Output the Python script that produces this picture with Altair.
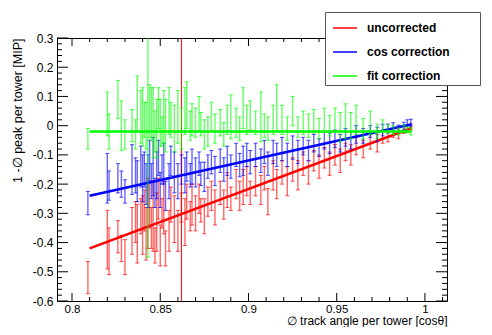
import altair as alt
import pandas as pd

# ---------------- data ----------------
tower_cos = [0.809, 0.820, 0.821, 0.826, 0.828, 0.830, 0.834, 0.836, 0.837, 0.839,
             0.840, 0.841, 0.842, 0.843, 0.844, 0.845, 0.846, 0.847, 0.848, 0.849,
             0.850, 0.851, 0.852, 0.853, 0.855, 0.856, 0.858,
             0.860, 0.862, 0.864, 0.865, 0.867, 0.868, 0.870, 0.872, 0.873, 0.875,
             0.877, 0.879, 0.881, 0.884, 0.886, 0.888, 0.890, 0.893, 0.895, 0.897,
             0.899, 0.901, 0.904, 0.907, 0.909, 0.911, 0.914, 0.916, 0.919, 0.922,
             0.925, 0.928, 0.931, 0.934, 0.937, 0.940, 0.943, 0.946, 0.949, 0.952,
             0.955, 0.958, 0.961, 0.965, 0.969, 0.973, 0.976, 0.979, 0.982, 0.985,
             0.988, 0.990, 0.992]

uncorrected = [-0.52, -0.39, -0.43, -0.38, -0.42, -0.45, -0.36, -0.33, -0.37, -0.31,
               -0.34, -0.29, -0.37, -0.30, -0.27, -0.35, -0.31, -0.41, -0.33, -0.25,
               -0.41, -0.30, -0.28, -0.42, -0.36, -0.27, -0.32,
               -0.36, -0.28, -0.33, -0.26, -0.31, -0.27, -0.30, -0.25, -0.29, -0.31,
               -0.26, -0.24, -0.28, -0.23, -0.27, -0.22, -0.25, -0.20, -0.24, -0.21,
               -0.19, -0.23, -0.19, -0.22, -0.18, -0.26, -0.17, -0.20, -0.16, -0.19,
               -0.15, -0.17, -0.13, -0.16, -0.12, -0.14, -0.11, -0.13, -0.10, -0.12,
               -0.09, -0.10, -0.07, -0.08, -0.055, -0.06, -0.04, -0.035, -0.025, -0.03,
               -0.015, -0.01, -0.005]
uncorrected_err = [0.055, 0.100, 0.080, 0.055, 0.045, 0.060, 0.080, 0.070, 0.100, 0.060,
                   0.100, 0.070, 0.090, 0.120, 0.080, 0.070, 0.120, 0.060, 0.100, 0.070,
                   0.070, 0.050, 0.090, 0.060, 0.070, 0.060, 0.080,
                   0.070, 0.050, 0.080, 0.060, 0.050, 0.070, 0.060, 0.050, 0.040, 0.060,
                   0.050, 0.050, 0.060, 0.040, 0.050, 0.060, 0.040, 0.050, 0.050, 0.060,
                   0.050, 0.040, 0.050, 0.050, 0.040, 0.045, 0.050, 0.050, 0.040, 0.050,
                   0.040, 0.050, 0.040, 0.040, 0.035, 0.040, 0.035, 0.040, 0.035, 0.040,
                   0.030, 0.035, 0.030, 0.030, 0.025, 0.030, 0.020, 0.020, 0.015, 0.015,
                   0.012, 0.012, 0.010]

cos_correction = [-0.265, -0.180, -0.205, -0.180, -0.200, -0.225, -0.150, -0.170, -0.190, -0.140,
                  -0.180, -0.150, -0.200, -0.190, -0.120, -0.190, -0.140, -0.230, -0.170, -0.110,
                  -0.220, -0.150, -0.130, -0.240, -0.190, -0.120, -0.160,
                  -0.190, -0.150, -0.170, -0.140, -0.170, -0.140, -0.160, -0.130, -0.165, -0.175,
                  -0.140, -0.125, -0.155, -0.120, -0.150, -0.120, -0.140, -0.100, -0.135, -0.120,
                  -0.100, -0.125, -0.100, -0.120, -0.090, -0.130, -0.090, -0.100, -0.080, -0.100,
                  -0.075, -0.090, -0.070, -0.085, -0.060, -0.075, -0.050, -0.060, -0.045, -0.060,
                  -0.040, -0.050, -0.030, -0.035, -0.020, -0.030, -0.015, -0.010, -0.005, -0.010,
                  0.000, 0.010, 0.010]
cos_correction_err = [0.040, 0.085, 0.050, 0.050, 0.045, 0.040, 0.085, 0.060, 0.070, 0.070,
                      0.080, 0.060, 0.070, 0.090, 0.070, 0.060, 0.100, 0.050, 0.080, 0.060,
                      0.060, 0.050, 0.070, 0.050, 0.060, 0.050, 0.070,
                      0.060, 0.050, 0.060, 0.050, 0.040, 0.060, 0.050, 0.040, 0.040, 0.050,
                      0.040, 0.040, 0.050, 0.040, 0.040, 0.050, 0.040, 0.040, 0.040, 0.050,
                      0.040, 0.040, 0.040, 0.040, 0.040, 0.040, 0.040, 0.040, 0.040, 0.040,
                      0.040, 0.040, 0.030, 0.035, 0.030, 0.030, 0.030, 0.035, 0.030, 0.030,
                      0.030, 0.030, 0.030, 0.025, 0.020, 0.025, 0.020, 0.015, 0.015, 0.012,
                      0.012, 0.010, 0.012]

fit_correction = [-0.045, 0.040, -0.020, 0.090, 0.000, -0.030, 0.000, -0.030, 0.075, 0.030,
                  0.030, 0.020, 0.000, -0.050, 0.050, 0.040, 0.010, -0.020, -0.010, 0.060,
                  0.010, -0.020, 0.030, 0.000, 0.050, 0.020, -0.010,
                  0.030, -0.010, 0.050, 0.070, 0.000, 0.020, 0.010, 0.040, 0.005, -0.030,
                  -0.020, 0.030, -0.010, 0.010, -0.030, 0.020, 0.030, 0.010, -0.010, 0.060,
                  0.020, 0.035, 0.010, 0.030, 0.000, -0.010, 0.020, 0.060, 0.020, -0.010,
                  0.050, -0.005, 0.010, 0.000, 0.015, -0.010, 0.020, 0.000, 0.020, -0.005,
                  0.015, 0.000, 0.020, -0.010, 0.010, -0.020, 0.000, -0.010, -0.015, -0.020,
                  -0.010, -0.015, -0.020]
fit_correction_err = [0.035, 0.075, 0.060, 0.065, 0.085, 0.050, 0.055, 0.050, 0.095, 0.090,
                      0.100, 0.060, 0.080, 0.400, 0.090, 0.090, 0.120, 0.070, 0.100, 0.070,
                      0.080, 0.050, 0.090, 0.090, 0.080, 0.060, 0.080,
                      0.090, 0.070, 0.080, 0.080, 0.050, 0.055, 0.050, 0.060, 0.040, 0.050,
                      0.050, 0.050, 0.050, 0.045, 0.040, 0.050, 0.075, 0.050, 0.040, 0.070,
                      0.050, 0.050, 0.040, 0.085, 0.040, 0.040, 0.050, 0.080, 0.050, 0.040,
                      0.050, 0.035, 0.040, 0.040, 0.040, 0.035, 0.040, 0.035, 0.040, 0.050,
                      0.060, 0.045, 0.050, 0.035, 0.040, 0.025, 0.020, 0.015, 0.015, 0.012,
                      0.012, 0.010, 0.012]

# straight-line fits (end points)
fit_x = [0.810, 0.9925]
uncorrected_fit = [-0.420, -0.008]
cos_correction_fit = [-0.240, 0.005]
fit_correction_fit = [-0.020, -0.020]

cut_position = [0.862]

series_names = ["uncorrected", "cos correction", "fit correction"]
series_colors = ["#ff0000", "#0000ff", "#00ff00"]

# axis ticks
x_major = [0.8, 0.85, 0.9, 0.95, 1.0]
x_minor = [0.81, 0.82, 0.83, 0.84, 0.86, 0.87, 0.88, 0.89, 0.91, 0.92, 0.93, 0.94,
           0.96, 0.97, 0.98, 0.99, 1.01]
y_major = [-0.6, -0.5, -0.4, -0.3, -0.2, -0.1, 0.0, 0.1, 0.2, 0.3]
y_minor = [-0.58, -0.56, -0.54, -0.52, -0.48, -0.46, -0.44, -0.42, -0.38, -0.36, -0.34,
           -0.32, -0.28, -0.26, -0.24, -0.22, -0.18, -0.16, -0.14, -0.12, -0.08, -0.06,
           -0.04, -0.02, 0.02, 0.04, 0.06, 0.08, 0.12, 0.14, 0.16, 0.18, 0.22, 0.24,
           0.26, 0.28]

# ---------------- chart ----------------
W, H = 390, 263
FONT = "Liberation Sans"

XS = alt.Scale(domain=[0.7915, 1.0125], nice=False, zero=False)
YS = alt.Scale(domain=[-0.6, 0.3], nice=False, zero=False)
XAX = alt.Axis(values=x_major, labelExpr="format(datum.value, '~g')",
               title="\u2205 track angle per tower [cos\u03b8]",
               titleAnchor="end", titleBaseline="middle", titleY=19,
               titleFontWeight="normal", titleFontSize=12, titleFont=FONT,
               labelFont=FONT, labelFontSize=11.5, labelPadding=2,
               ticks=False, domain=False, grid=False, labelColor="black", titleColor="black")
YAX = alt.Axis(values=y_major,
               labelExpr="replace(format(datum.value, '~g'), '\u2212', '-')",
               title="1 -\u2205 peak per tower [MIP]",
               titleAnchor="end", titleBaseline="middle", titleX=-40,
               titleFontWeight="normal", titleFontSize=12.5, titleFont=FONT,
               labelFont=FONT, labelFontSize=12, labelPadding=4,
               ticks=False, domain=False, grid=False, labelColor="black", titleColor="black")


def X(f):
    return alt.X(f"{f}:Q", scale=XS, axis=XAX)


def Y(f):
    return alt.Y(f"{f}:Q", scale=YS, axis=YAX)


values = [uncorrected, cos_correction, fit_correction]
errors = [uncorrected_err, cos_correction_err, fit_correction_err]
fits = [uncorrected_fit, cos_correction_fit, fit_correction_fit]

LEGEND = alt.Legend(
    title=None, orient="none", legendX=268, legendY=-26,
    symbolType="stroke", symbolSize=576, symbolStrokeWidth=1.5, symbolOffset=4,
    labelFont=FONT, labelFontSize=12, labelFontWeight="bold",
    labelColor="black", labelOffset=9, padding=3, rowPadding=5,
    labelExpr="datum.label + '\u2800\u2800\u2800'",
    strokeColor="#555555", fillColor="white",
)

layers = []

# cut line
layers.append(
    alt.Chart(pd.DataFrame({"x": cut_position}))
    .mark_rule(color="#ff0000", strokeWidth=1)
    .encode(x=X("x"))
)

for name, color, vals, errs, fit in zip(series_names, series_colors, values, errors, fits):
    df = pd.DataFrame({"x": tower_cos, "v": vals, "e": errs})
    df["lo"] = df["v"] - df["e"]
    df["hi"] = df["v"] + df["e"]
    base = alt.Chart(df)
    layers.append(
        base.mark_rule(color=color, strokeWidth=1.4, opacity=0.6, clip=True)
        .encode(x=X("x"), y=Y("lo"), y2="hi")
    )
    layers.append(
        base.mark_tick(color=color, orient="horizontal", size=4, thickness=1, clip=True)
        .encode(x=X("x"), y=Y("lo"))
    )
    layers.append(
        base.mark_tick(color=color, orient="horizontal", size=4, thickness=1, clip=True)
        .encode(x=X("x"), y=Y("hi"))
    )
    fdf = pd.DataFrame({"x": fit_x, "y": fit, "series": [name] * len(fit_x)})
    layers.append(
        alt.Chart(fdf)
        .mark_line(strokeWidth=2.5, clip=True)
        .encode(
            x=X("x"), y=Y("y"),
            color=alt.Color(
                "series:N",
                scale=alt.Scale(domain=series_names, range=series_colors),
                legend=LEGEND,
            ),
        )
    )

# inward tick marks on all four sides
xmaj = alt.Chart(pd.DataFrame({"t": x_major}))
xmin = alt.Chart(pd.DataFrame({"t": x_minor}))
ymaj = alt.Chart(pd.DataFrame({"t": y_major}))
ymin = alt.Chart(pd.DataFrame({"t": y_minor}))
tick_style = dict(color="black", strokeWidth=1)
layers += [
    xmaj.mark_rule(**tick_style).encode(x=X("t"), y=alt.value(H), y2=alt.value(H - 8)),
    xmin.mark_rule(**tick_style).encode(x=X("t"), y=alt.value(H), y2=alt.value(H - 4)),
    xmaj.mark_rule(**tick_style).encode(x=X("t"), y=alt.value(0), y2=alt.value(8)),
    xmin.mark_rule(**tick_style).encode(x=X("t"), y=alt.value(0), y2=alt.value(4)),
    ymaj.mark_rule(**tick_style).encode(y=Y("t"), x=alt.value(0), x2=alt.value(11)),
    ymin.mark_rule(**tick_style).encode(y=Y("t"), x=alt.value(0), x2=alt.value(5)),
    ymaj.mark_rule(**tick_style).encode(y=Y("t"), x=alt.value(W), x2=alt.value(W - 11)),
    ymin.mark_rule(**tick_style).encode(y=Y("t"), x=alt.value(W), x2=alt.value(W - 5)),
]

chart = (
    alt.layer(*layers)
    .properties(
        width=W, height=H,
        autosize=alt.AutoSizeParams(type="none"),
        padding={"left": 49, "top": 30, "right": 37, "bottom": 26},
        background="white",
    )
    .configure_view(stroke="black", strokeWidth=1)
    .configure_legend(strokeWidth=1)
)

chart.save("out.html", embed_options={"renderer": "svg", "actions": False})
